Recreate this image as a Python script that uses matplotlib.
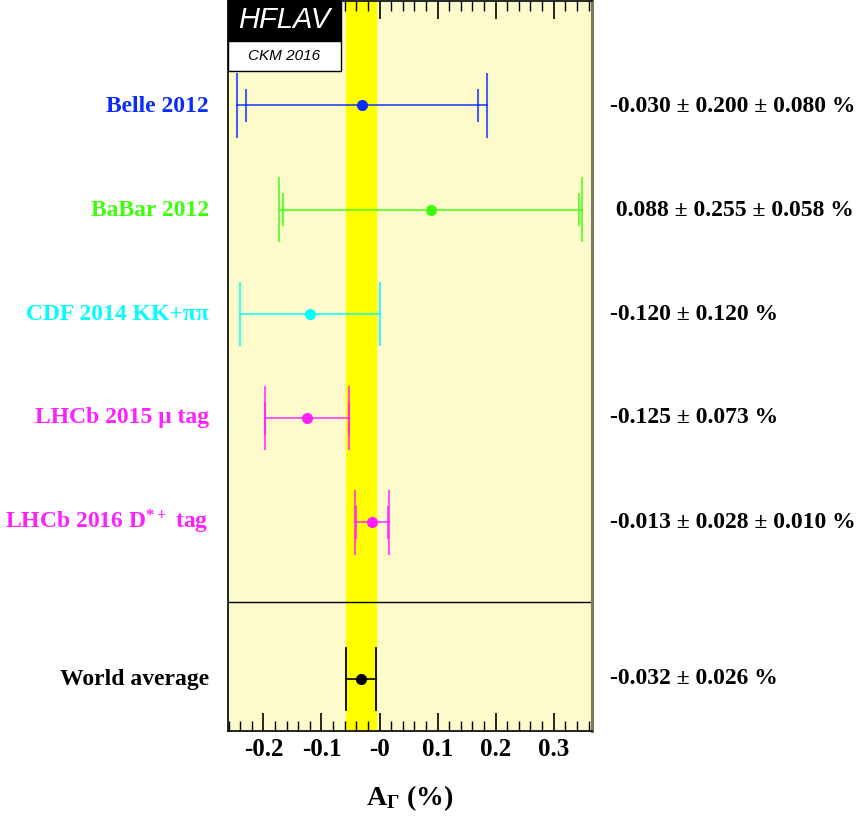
import matplotlib
matplotlib.use("Agg")
import matplotlib.pyplot as plt
from matplotlib.patches import Rectangle
import numpy as np

# ---- data ----
labels = ["Belle 2012", "BaBar 2012", "CDF 2014 KK+ππ", "LHCb 2015 μ tag", r"LHCb 2016 D$^{*+}$ tag"]
values = [-0.030, 0.088, -0.120, -0.125, -0.013]
stat = [0.200, 0.255, 0.120, 0.073, 0.028]
syst = [0.080, 0.058, np.nan, 0.0, 0.010]
value_texts = ["-0.030 ± 0.200 ± 0.080 %", " 0.088 ± 0.255 ± 0.058 %", "-0.120 ± 0.120 %",
               "-0.125 ± 0.073 %", "-0.013 ± 0.028 ± 0.010 %"]
colors = ["#0a2cff", "#3cff0a", "#00ffff", "#ff1fff", "#ff1fff"]
avg_value = -0.032
avg_err = 0.026
avg_text = "-0.032 ± 0.026 %"
tick_vals = [-0.2, -0.1, 0.0, 0.1, 0.2, 0.3]
tick_labels = ["-0.2", "-0.1", "-0", "0.1", "0.2", "0.3"]

plt.rcParams['mathtext.fontset'] = 'custom'
plt.rcParams['mathtext.rm'] = 'Liberation Serif:bold'
plt.rcParams['mathtext.it'] = 'Liberation Serif:bold'
plt.rcParams['mathtext.bf'] = 'Liberation Serif:bold'

W, H = 858, 816
fig = plt.figure(figsize=(W/100, H/100), dpi=100)
x0, x1, ytop, ybot = 228, 592, 1, 731
ax = fig.add_axes([x0/W, 1-ybot/H, (x1-x0)/W, (ybot-ytop)/H])
ax.set_facecolor("#fdfbcc")
ax.set_xlim(-0.261, 0.366)
ax.set_ylim(0, 7)

# yellow average band
ax.axvspan(avg_value-avg_err, avg_value+avg_err, color="#ffff00", zorder=1)
ax.axhline(1.24, color="black", lw=1.0, zorder=2)

ypos = [6, 5, 4, 3, 2]
serif = "Liberation Serif"
for i in range(len(values)):
    v, s, sy, c, y = values[i], stat[i], syst[i], colors[i], ypos[i]
    tot = np.sqrt(s**2 + (0 if np.isnan(sy) else sy)**2)
    ax.plot([v-tot, v+tot], [y, y], color=c, lw=1.4, alpha=0.75, zorder=3)
    for xe in (v-tot, v+tot):
        ax.plot([xe, xe], [y-0.3, y+0.3], color=c, lw=1.5, alpha=0.75, zorder=3)
    if not np.isnan(sy):
        for xe in (v-s, v+s):
            ax.plot([xe, xe], [y-0.15, y+0.15], color=c, lw=1.5, alpha=0.75, zorder=3)
    ax.plot([v], [y], 'o', color=c, ms=7, zorder=4)
    fig.text(209/W, 1-(106+104*i)/H, labels[i], color=c, ha="right", va="center",
             fontsize=17, fontfamily=serif, fontweight="bold")
    fig.text(610/W, 1-(106+104*i)/H, value_texts[i], color="black", ha="left", va="center",
             fontsize=17, fontfamily=serif, fontweight="bold")

# world average
ya = 0.5
ax.plot([avg_value-avg_err, avg_value+avg_err], [ya, ya], color="black", lw=1.2, zorder=3)
for xe in (avg_value-avg_err, avg_value+avg_err):
    ax.plot([xe, xe], [ya-0.3, ya+0.3], color="black", lw=1.3, zorder=3)
ax.plot([avg_value], [ya], 'o', color="black", ms=7, zorder=4)
fig.text(209/W, 1-679/H, "World average", color="black", ha="right", va="center",
         fontsize=17, fontfamily=serif, fontweight="bold")
fig.text(610/W, 1-679/H, avg_text, color="black", ha="left", va="center",
         fontsize=17, fontfamily=serif, fontweight="bold")

# axes styling
ax.set_yticks([])
ax.set_xticks(tick_vals)
ax.set_xticklabels(tick_labels, fontfamily=serif, fontweight="bold", fontsize=18)
ax.set_xticks(np.arange(-0.26, 0.37, 0.02), minor=True)
ax.tick_params(axis="x", which="major", direction="in", length=13, width=1.2, top=True, pad=5)
ax.tick_params(axis="x", which="minor", direction="in", length=7, width=1.0, top=True)
for sp in ["left", "top", "bottom"]:
    ax.spines[sp].set_linewidth(1.2)
    ax.spines[sp].set_zorder(5)
ax.spines["right"].set_color("#7a7a60")
ax.spines["right"].set_linewidth(2.2)
fig.text(410/W, 1-798/H, r"A$_{\Gamma}$ (%)", ha="center", va="center",
         fontfamily=serif, fontweight="bold", fontsize=20)

# HFLAV logo
fig.patches.append(Rectangle((228/W, 1-41/H), 113/W, 41/H, transform=fig.transFigure,
                             facecolor="black", edgecolor="black", lw=1, zorder=10))
fig.patches.append(Rectangle((228/W, 1-71/H), 113/W, 30/H, transform=fig.transFigure,
                             facecolor="white", edgecolor="black", lw=1, zorder=10))
fig.text(284/W, 1-20/H, "HFLAV", color="white", ha="center", va="center", fontsize=21,
         fontfamily="Liberation Sans", style="italic", zorder=11)
fig.text(284/W, 1-56/H, "CKM 2016", color="black", ha="center", va="center", fontsize=11,
         fontfamily="Liberation Sans", style="italic", zorder=11)

fig.savefig("out.png", dpi=100)
